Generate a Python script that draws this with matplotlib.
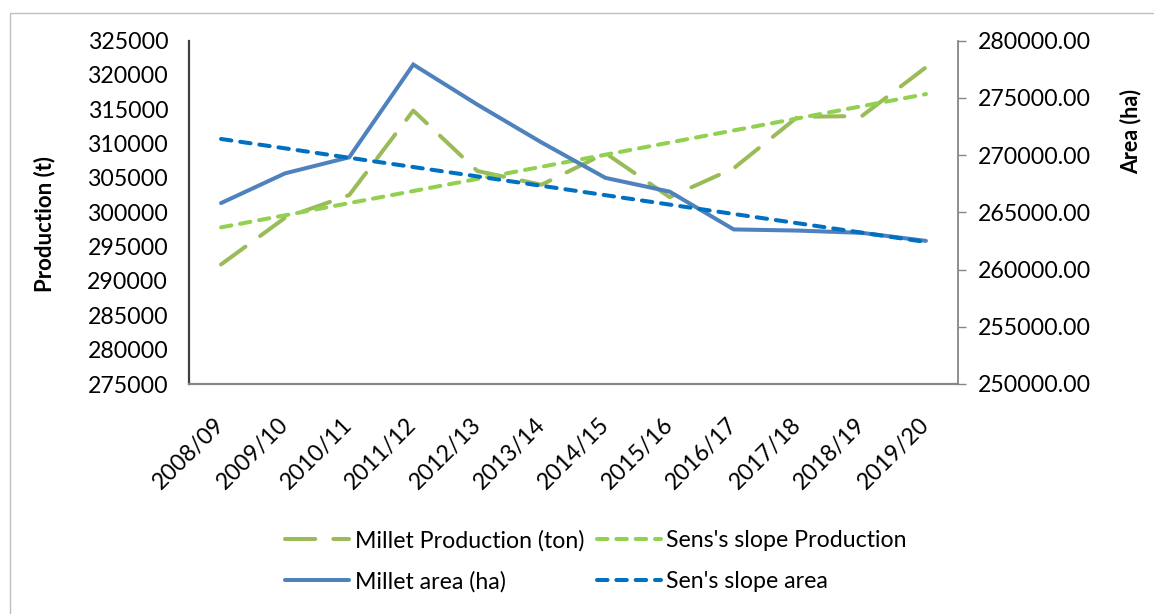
import matplotlib
matplotlib.use("Agg")
import matplotlib.pyplot as plt
from matplotlib.patches import Rectangle
import matplotlib.ticker as mticker

categories = ["2008/09", "2009/10", "2010/11", "2011/12", "2012/13", "2013/14",
              "2014/15", "2015/16", "2016/17", "2017/18", "2018/19", "2019/20"]
production = [292400, 299200, 302500, 314800, 306000, 304000,
              308600, 302200, 306400, 313900, 314000, 321100]
sens_production = [297800, 299560, 301330, 303090, 304850, 306620,
                   308380, 310150, 311910, 313670, 315440, 317200]
area = [265800, 268400, 269800, 277900, 274400, 271100,
        268000, 266800, 263500, 263400, 263200, 262500]
sens_area = [271400, 270580, 269760, 268950, 268130, 267310,
             266490, 265670, 264850, 264040, 263220, 262400]

left_ticks = [275000, 280000, 285000, 290000, 295000, 300000, 305000,
              310000, 315000, 320000, 325000]
right_ticks = [250000, 255000, 260000, 265000, 270000, 275000, 280000]

FONT = ["Lato", "DejaVu Sans"]
plt.rcParams["font.family"] = FONT

W, H = 1154, 614
fig = plt.figure(figsize=(W / 100, H / 100), dpi=100)
fig.patch.set_facecolor("white")

# outer chart border
fig.patches.append(Rectangle((10 / W, 1 - 13 / H), 1.2, -1.2, transform=fig.transFigure,
                             fill=False, edgecolor="#BFBFBF", linewidth=1.0))

ax = fig.add_axes([189 / W, 1 - 384 / H, (958 - 189) / W, (384 - 40.5) / H])
ax2 = ax.twinx()

x = list(range(len(categories)))

l1, = ax.plot(x, production, color="#9BBB59", linewidth=2.9, dashes=(7.5, 4.5),
              dash_capstyle="round", label="Millet Production (ton)")
l2, = ax.plot(x, sens_production, color="#92D050", linewidth=2.9, dashes=(2.6, 2.2),
              dash_capstyle="round", label="Sens's slope Production")
l3, = ax2.plot(x, area, color="#4F81BD", linewidth=2.9, solid_capstyle="round",
               solid_joinstyle="miter", label="Millet area (ha)")
l4, = ax2.plot(x, sens_area, color="#0070C0", linewidth=2.9, dashes=(2.6, 2.2),
               dash_capstyle="round", label="Sen's slope area")

ax.set_xlim(-0.5, len(categories) - 0.5)
ax.set_ylim(275000, 325000)
ax2.set_ylim(250000, 280000)
ax.set_yticks(left_ticks)
ax2.set_yticks(right_ticks)
ax2.yaxis.set_major_formatter(mticker.FuncFormatter(lambda v, p: f"{v:.2f}"))
ax.yaxis.set_major_formatter(mticker.FuncFormatter(lambda v, p: f"{v:.0f}"))

FS = 16.7
ax.set_xticks(x)
ax.set_xticklabels(categories, rotation=45, ha="right", va="center",
                   rotation_mode="anchor", fontsize=FS)

for a in (ax, ax2):
    a.spines["top"].set_visible(False)
    a.set_facecolor("none")
ax.spines["right"].set_visible(False)
ax.spines["left"].set_color("#404040")
ax.spines["left"].set_linewidth(1.6)
ax.spines["bottom"].set_color("#868686")
ax.spines["bottom"].set_linewidth(1.6)
ax2.spines["left"].set_visible(False)
ax2.spines["bottom"].set_visible(False)
ax2.spines["right"].set_color("#868686")
ax2.spines["right"].set_linewidth(1.3)

ax.tick_params(axis="y", length=0, pad=15, labelsize=FS, colors="black")
ax.tick_params(axis="x", length=0, pad=27, labelsize=FS)
ax2.tick_params(axis="y", length=6, width=1.0, color="#868686", pad=8, labelsize=FS)

fig.text(45 / W, 1 - 224 / H, "Production (t)", rotation=90, ha="center", va="center",
         fontsize=16, fontweight="bold")
fig.text(1131 / W, 1 - 132 / H, "Area (ha)", rotation=90, ha="center", va="center",
         fontsize=15.5, fontweight="bold")

leg = fig.legend(handles=[l1, l3, l2, l4], ncol=2, loc="center",
                 bbox_to_anchor=(596 / W, 1 - 561 / H), frameon=False,
                 fontsize=FS, handlelength=2.75, handletextpad=0.25,
                 columnspacing=0.55, labelspacing=0.85)

fig.savefig("out.png", dpi=100, facecolor="white")
